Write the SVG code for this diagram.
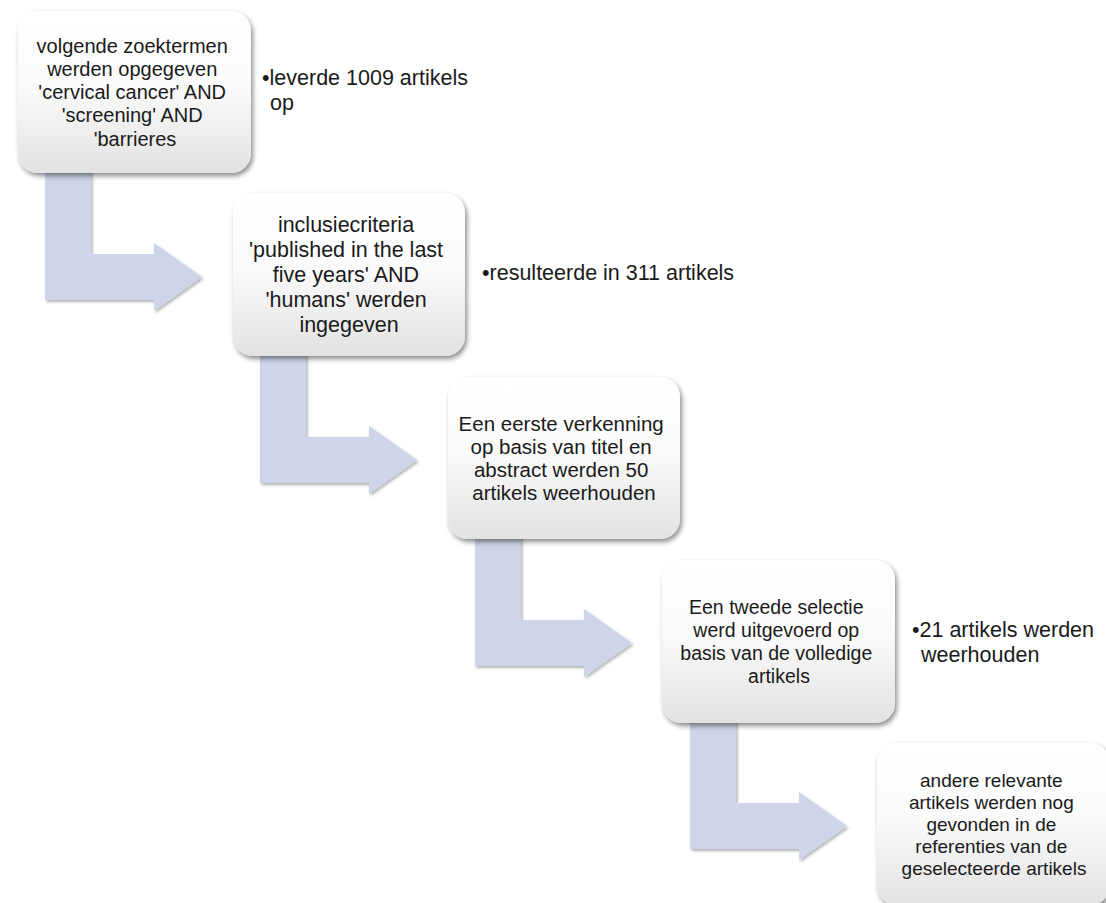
<svg xmlns="http://www.w3.org/2000/svg" width="1106" height="903" viewBox="0 0 1106 903">
<defs>
<linearGradient id="boxGrad" x1="0" y1="0" x2="0" y2="1">
<stop offset="0" stop-color="#ffffff"/>
<stop offset="0.45" stop-color="#fbfbfb"/>
<stop offset="1" stop-color="#e2e2e2"/>
</linearGradient>
<filter id="shadow" x="-10%" y="-10%" width="125%" height="130%">
<feDropShadow dx="2" dy="3" stdDeviation="2.5" flood-color="#000" flood-opacity="0.45"/>
</filter>
<filter id="ashadow" x="-10%" y="-10%" width="125%" height="125%">
<feDropShadow dx="1.5" dy="2" stdDeviation="1.5" flood-color="#000" flood-opacity="0.3"/>
</filter>
<path id="bent" d="M45,165 L91,165 L91,254 L154,254 L154,243 L202,277 L154,311 L154,300 L45,300 Z"/>
</defs>
<style>
.arrow{fill:#ced4e9;filter:url(#ashadow)}
.box{fill:url(#boxGrad);filter:url(#shadow)}
.t{font-family:"Liberation Sans",Arial,sans-serif;fill:#1a1a1a;text-anchor:middle}
.s{font-family:"Liberation Sans",Arial,sans-serif;fill:#1a1a1a;font-size:21.5px}
</style>
<rect width="1106" height="903" fill="#ffffff"/>
<g id="connectors">
<use href="#bent" class="arrow"/>
<use href="#bent" class="arrow" transform="translate(215,183)"/>
<use href="#bent" class="arrow" transform="translate(430,366)"/>
<use href="#bent" class="arrow" transform="translate(645,549)"/>
</g>
<g id="node1">
<rect class="box" x="18" y="11" width="233" height="162" rx="20"/>
<text class="t" font-size="20">
<tspan x="135" y="52.5">volgende zoektermen</tspan>
<tspan x="135" y="75.8">werden opgegeven</tspan>
<tspan x="135" y="99">'cervical cancer' AND</tspan>
<tspan x="135" y="122.3">'screening' AND</tspan>
<tspan x="135" y="145.6">'barrieres</tspan>
</text>
</g>
<g id="node1-note">
<text class="s"><tspan x="262" y="85">•leverde 1009 artikels</tspan><tspan x="270" y="110">op</tspan></text>
</g>
<g id="node2">
<rect class="box" x="233" y="193" width="232" height="163" rx="20"/>
<text class="t" font-size="21.5">
<tspan x="349" y="232">inclusiecriteria</tspan>
<tspan x="349" y="257">'published in the last</tspan>
<tspan x="349" y="282">five years' AND</tspan>
<tspan x="349" y="307">'humans' werden</tspan>
<tspan x="349" y="332">ingegeven</tspan>
</text>
</g>
<g id="node2-note">
<text class="s"><tspan x="482" y="280">•resulteerde in 311 artikels</tspan></text>
</g>
<g id="node3">
<rect class="box" x="448" y="377" width="232" height="162" rx="20"/>
<text class="t" font-size="20.5">
<tspan x="564" y="430.5">Een eerste verkenning</tspan>
<tspan x="564" y="453.5">op basis van titel en</tspan>
<tspan x="564" y="476.5">abstract werden 50</tspan>
<tspan x="564" y="499.5">artikels weerhouden</tspan>
</text>
</g>
<g id="node4">
<rect class="box" x="662" y="560" width="233" height="163" rx="20"/>
<text class="t" font-size="19.5">
<tspan x="779" y="614">Een tweede selectie</tspan>
<tspan x="779" y="637">werd uitgevoerd op</tspan>
<tspan x="779" y="660">basis van de volledige</tspan>
<tspan x="779" y="683">artikels</tspan>
</text>
</g>
<g id="node4-note">
<text class="s"><tspan x="912" y="637">•21 artikels werden</tspan><tspan x="921" y="662">weerhouden</tspan></text>
</g>
<g id="node5">
<rect class="box" x="877" y="743" width="233" height="162" rx="20"/>
<text class="t" font-size="19">
<tspan x="994" y="786.5">andere relevante</tspan>
<tspan x="994" y="808.5">artikels werden nog</tspan>
<tspan x="994" y="830.5">gevonden in de</tspan>
<tspan x="994" y="852.5">referenties van de</tspan>
<tspan x="994" y="874.5">geselecteerde artikels</tspan>
</text>
</g>
</svg>
